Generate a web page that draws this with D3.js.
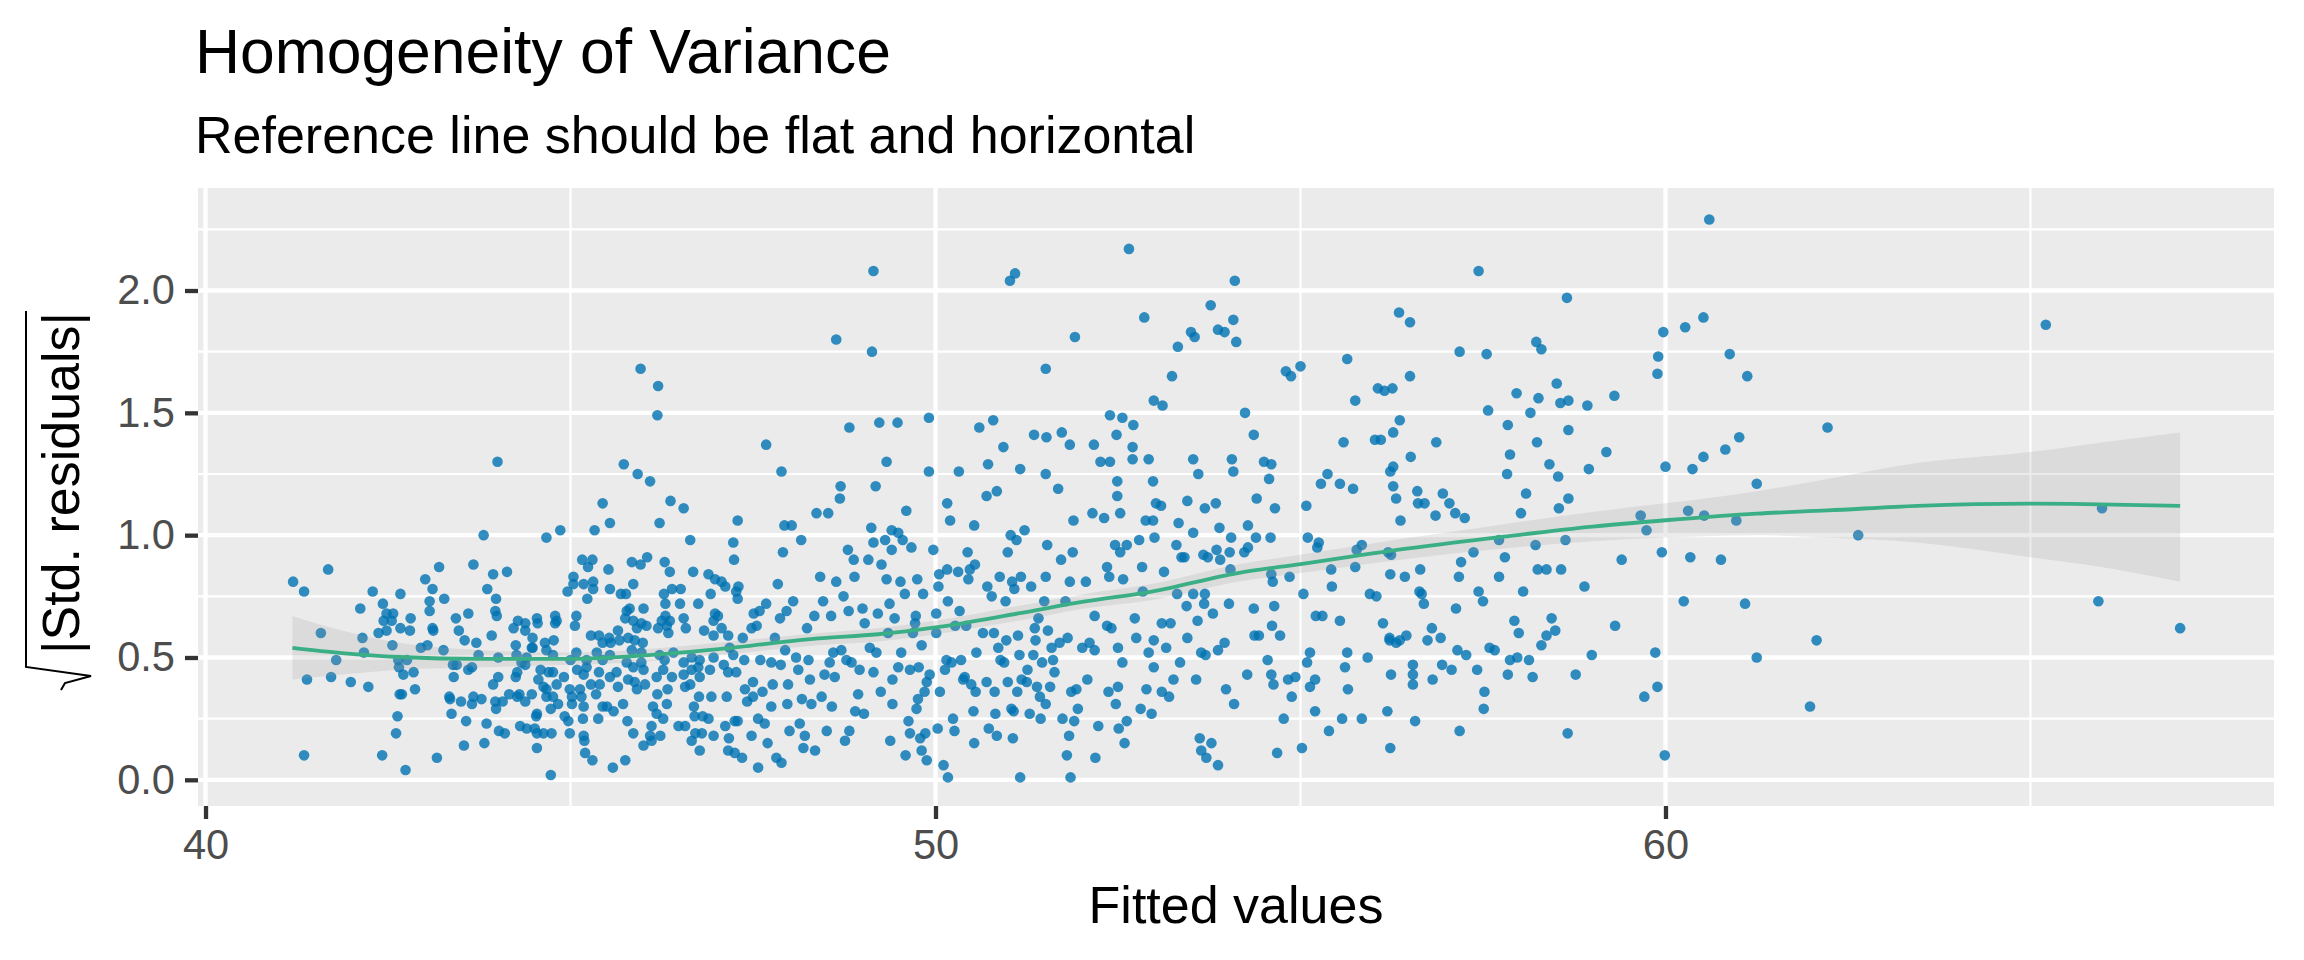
<!DOCTYPE html>
<html>
<head>
<meta charset="utf-8">
<script src="https://cdn.jsdelivr.net/npm/d3@7"></script>
<style>
html,body{margin:0;padding:0;background:#fff;}
svg{display:block;font-family:"Liberation Sans",Arial,sans-serif;}
</style>
</head>
<body>
<svg id="chart" width="2304" height="960"></svg>
<script>
// ---- data ----
const titleText = "Homogeneity of Variance";
const subtitleText = "Reference line should be flat and horizontal";
const xAxisTitle = "Fitted values";
const yAxisTitle = "|Std. residuals|";
const xTicks = [40, 50, 60];
const xMinor = [45, 55, 65];
const yTicks = [0, 0.5, 1.0, 1.5, 2.0];
const yMinor = [0.25, 0.75, 1.25, 1.75, 2.25];

// [fitted value, sqrt(|std. residual|)]
const residualPoints = [
[41.20,0.81],[41.35,0.77],[41.68,0.86],[41.58,0.60],[41.79,0.49],[41.39,0.41],[41.72,0.42],[41.35,0.10],[41.99,0.40],[42.23,0.38],
[42.12,0.70],[42.15,0.58],[42.17,0.52],[42.29,0.77],[42.42,0.10],[42.37,0.60],[42.74,0.04],[43.20,0.87],[43.17,0.09],[43.54,0.14],
[43.67,0.88],[43.81,1.00],[43.82,0.15],[44.00,1.30],[44.54,0.13],[44.67,0.99],[44.73,0.02],[44.86,1.02],[45.16,0.90],[45.19,0.16],
[45.20,0.11],[45.24,0.87],[45.30,0.08],[45.30,0.90],[45.33,1.02],[45.44,1.13],[45.52,0.86],[45.54,1.05],[45.58,0.05],[45.73,1.29],
[45.75,0.08],[45.84,0.89],[45.92,1.25],[45.96,0.88],[45.96,1.68],[46.00,0.14],[46.05,0.91],[46.09,1.22],[46.11,0.16],[46.19,1.49],
[46.20,1.61],[46.22,1.05],[46.29,0.89],[46.37,1.14],[46.55,1.11],[46.64,0.98],[46.66,0.16],[46.77,0.12],
[43.01,0.82],[42.67,0.76],[43.11,0.78],[43.07,0.73],[43.07,0.69],[43.27,0.74],[42.43,0.72],[42.48,0.68],[42.57,0.68],[42.44,0.65],
[42.55,0.65],[42.48,0.61],[42.67,0.62],[42.80,0.61],[42.81,0.66],[43.11,0.62],[43.12,0.61],[43.43,0.66],[43.60,0.68],[43.47,0.61],
[43.55,0.57],[43.71,0.56],[42.56,0.55],[42.95,0.54],[43.04,0.55],[43.26,0.53],[42.64,0.49],[42.76,0.49],[42.65,0.46],[42.71,0.43],
[42.85,0.44],[42.87,0.37],[42.66,0.35],[42.69,0.35],[42.63,0.26],[42.61,0.19],[43.44,0.47],[43.39,0.47],[43.60,0.45],[43.65,0.46],
[43.40,0.42],[43.74,0.51],[43.34,0.34],[43.35,0.33],[43.50,0.32],[43.65,0.31],[43.67,0.34],[43.78,0.33],[43.37,0.27],[43.57,0.24],
[43.85,0.23],[43.94,0.84],[44.13,0.85],[43.86,0.78],[43.98,0.74],[43.97,0.69],[43.99,0.67],[43.92,0.59],[44.01,0.50],[44.01,0.42],
[43.94,0.39],[43.97,0.32],[43.98,0.29],[44.07,0.32],[44.16,0.35],[44.02,0.20],[44.10,0.19],[44.22,0.62],[44.28,0.65],[44.38,0.64],
[44.38,0.61],[44.25,0.55],[44.26,0.51],[44.40,0.50],[44.33,0.48],[44.38,0.47],[44.25,0.42],[44.27,0.44],[44.30,0.35],[44.27,0.34],
[44.38,0.32],[44.48,0.58],[44.48,0.54],[44.54,0.66],[44.55,0.64],[44.65,0.56],[44.77,0.57],[44.79,0.67],[44.81,0.65],[44.79,0.64],
[44.59,0.45],[44.70,0.44],[44.76,0.44],[44.56,0.41],[44.91,0.42],[44.63,0.38],[44.67,0.37],[44.81,0.39],[44.47,0.35],[44.67,0.34],
[44.76,0.34],[44.83,0.31],[44.73,0.29],[44.54,0.27],[44.53,0.26],[44.31,0.22],[44.40,0.21],[44.51,0.21],[44.54,0.19],[44.63,0.19],
[44.74,0.19],[44.76,0.51],[44.47,0.54],[44.67,0.53],[45.00,0.49],[45.08,0.67],[45.06,0.63],[45.04,0.83],[45.04,0.80],[44.96,0.77],
[45.18,0.80],[45.31,0.81],[45.31,0.78],[45.23,0.74],[45.28,0.59],[45.39,0.59],[45.44,0.56],[45.53,0.58],[45.65,0.61],[45.55,0.56],
[45.67,0.57],[45.08,0.52],[45.22,0.49],[45.36,0.52],[45.44,0.49],[45.54,0.51],[45.09,0.45],[45.22,0.46],[45.18,0.43],[45.39,0.44],
[45.54,0.42],[45.63,0.44],[45.65,0.38],[44.99,0.37],[45.13,0.37],[45.28,0.39],[45.40,0.39],[45.02,0.34],[45.15,0.34],[45.35,0.35],
[45.02,0.31],[45.18,0.30],[45.44,0.30],[45.50,0.30],[45.59,0.28],[45.72,0.31],[44.92,0.26],[44.97,0.24],[45.17,0.25],[45.38,0.25],
[44.99,0.19],[45.18,0.18],[45.78,0.24],[45.54,0.78],[45.69,0.76],[45.76,0.76],[45.86,0.80],[45.77,0.69],[45.81,0.70],[45.75,0.66],
[45.86,0.65],[46.00,0.70],[45.97,0.64],[45.91,0.62],[46.04,0.63],[45.79,0.58],[45.88,0.57],[45.99,0.56],[45.84,0.53],[45.97,0.52],
[45.77,0.48],[45.86,0.46],[45.97,0.48],[46.00,0.45],[45.79,0.41],[45.88,0.40],[46.02,0.39],[45.91,0.37],[46.19,0.35],[46.13,0.30],
[46.18,0.27],[46.27,0.25],[46.11,0.22],[46.09,0.18],[45.86,0.19],[46.36,0.85],[46.39,0.78],[46.51,0.78],[46.28,0.76],[46.30,0.72],
[46.50,0.72],[46.30,0.67],[46.25,0.65],[46.36,0.65],[46.55,0.66],[46.32,0.63],[46.34,0.60],[46.20,0.62],[46.58,0.62],[46.68,0.85],
[46.89,0.84],[46.75,0.72],[46.92,0.76],[46.98,0.68],[46.83,0.61],[46.96,0.65],[46.96,0.59],[46.22,0.51],[46.41,0.52],[46.29,0.49],
[46.55,0.48],[46.66,0.50],[46.77,0.49],[46.96,0.50],[46.27,0.45],[46.18,0.42],[46.39,0.42],[46.55,0.43],[46.66,0.45],[46.75,0.46],
[46.91,0.45],[46.77,0.42],[46.57,0.38],[46.64,0.39],[46.33,0.37],[46.93,0.34],[46.76,0.34],[46.32,0.31],[46.69,0.30],[46.70,0.26],
[46.81,0.26],[46.89,0.25],[46.48,0.22],[46.57,0.22],[46.71,0.19],[46.80,0.19],[46.96,0.18],[46.23,0.18],[46.98,0.82],
[47.07,0.81],[47.12,0.79],[47.02,0.67],[47.07,0.62],[47.16,0.59],[47.18,0.54],[47.23,0.51],[47.10,0.47],[47.16,0.44],[47.27,0.44],
[47.14,0.34],[47.12,0.22],[47.25,0.24],[47.29,0.24],[47.17,0.17],[47.16,0.12],[47.25,0.11],[47.35,0.09],[47.23,0.97],[47.24,0.90],
[47.29,1.06],[47.27,0.77],[47.30,0.79],[47.29,0.74],[47.36,0.58],[47.38,0.49],[47.39,0.37],[47.42,0.32],[47.48,0.18],[47.50,0.40],
[47.50,0.34],[47.48,0.62],[47.51,0.68],[47.55,0.63],[47.59,0.69],[47.57,0.05],[47.57,0.25],[47.60,0.49],[47.63,0.36],[47.66,0.23],
[47.68,1.37],[47.68,0.72],[47.70,0.15],[47.75,0.48],[47.75,0.30],[47.77,0.39],[47.80,0.58],[47.82,0.09],[47.84,0.80],[47.87,0.66],
[47.88,0.47],[47.89,1.26],[47.89,0.07],[47.91,0.93],[47.93,1.04],[47.94,0.53],[47.96,0.69],[47.97,0.31],[47.98,0.39],[48.00,0.20],
[48.03,1.04],[48.05,0.73],[48.09,0.50],[48.12,0.45],[48.14,0.23],[48.16,0.98],[48.17,0.33],[48.19,0.13],[48.21,0.18],[48.24,0.62],
[48.26,0.49],[48.28,0.41],[48.30,0.31],[48.34,0.67],[48.35,0.12],[48.37,1.09],[48.42,0.83],[48.44,0.34],[48.46,0.73],[48.48,0.43],
[48.51,0.20],[48.53,1.09],[48.55,0.48],[48.57,0.67],[48.58,0.30],[48.60,0.52],[48.62,0.42],[48.64,1.80],[48.64,0.81],[48.69,1.15],
[48.70,1.20],[48.71,0.53],[48.74,0.75],[48.76,0.16],[48.78,0.49],[48.80,0.94],[48.81,0.69],[48.82,1.44],[48.82,0.20],[48.85,0.48],
[48.88,0.90],[48.89,0.83],[48.90,0.28],[48.94,0.35],[48.96,0.45],[49.00,0.70],[49.02,0.27],[49.03,0.64],[49.08,0.90],[49.10,0.54],
[49.12,1.03],[49.13,1.75],[49.15,2.08],[49.15,0.44],[49.15,0.97],[49.18,1.20],[49.19,0.52],[49.21,0.68],[49.23,1.46],[49.25,0.36],
[49.26,0.88],[49.31,0.98],[49.33,1.30],[49.33,0.82],[49.35,0.60],[49.37,0.72],[49.38,0.16],[49.40,0.94],[49.40,1.02],[49.41,0.41],
[49.41,0.31],[49.44,0.66],[49.48,1.46],[49.49,1.01],[49.49,0.46],[49.52,0.81],[49.53,0.52],[49.55,0.98],[49.58,0.76],[49.59,0.10],
[49.60,1.10],[49.63,0.24],[49.65,0.45],[49.65,0.19],[49.67,0.95],[49.69,0.60],[49.72,0.64],[49.73,0.67],[49.74,0.29],[49.75,0.82],
[49.76,0.33],[49.77,0.46],[49.79,0.17],[49.81,0.12],[49.81,0.55],[49.83,0.76],[49.85,0.36],[49.86,0.19],[49.88,0.40],[49.88,0.08],
[49.91,1.48],[49.91,1.26],[49.92,0.43],[49.97,0.94],[50.01,0.68],[50.01,0.60],[50.03,0.21],[50.04,0.79],[50.05,0.84],[50.06,0.36],
[50.11,0.06],[50.13,0.45],[50.15,0.49],[50.16,1.13],[50.16,0.86],[50.17,0.73],[50.17,0.01],[50.20,1.06],[50.22,0.48],[50.24,0.25],
[50.26,0.20],[50.27,0.63],[50.31,0.85],[50.32,1.26],[50.33,0.69],[50.35,0.49],[50.38,0.41],[50.40,0.42],[50.42,0.63],[50.44,0.93],
[50.45,0.82],[50.47,0.86],[50.49,0.39],[50.52,0.28],[50.53,0.15],[50.53,1.04],[50.54,0.88],[50.55,0.36],[50.56,0.52],[50.60,1.44],
[50.65,0.60],[50.70,0.40],[50.70,1.16],[50.71,0.79],[50.72,1.29],[50.73,0.21],[50.77,0.75],[50.79,1.47],[50.80,0.60],[50.81,0.36],
[50.82,0.27],[50.84,1.18],[50.84,0.18],[50.86,0.54],[50.88,0.83],[50.89,0.49],[50.93,1.36],[50.94,0.48],[50.96,0.73],[50.97,0.57],
[50.99,0.93],[50.99,0.40],[51.02,2.04],[51.03,1.00],[51.04,0.29],[51.05,0.81],[51.06,0.17],[51.07,0.28],[51.08,0.78],[51.09,2.07],
[51.11,0.98],[51.12,0.36],[51.13,0.59],[51.15,0.51],[51.16,1.27],[51.16,0.01],[51.17,0.83],[51.18,0.41],[51.22,1.02],[51.25,0.40],
[51.26,0.45],[51.29,0.27],[51.31,0.79],[51.34,0.51],[51.35,1.41],[51.36,0.62],[51.37,0.57],[51.39,0.38],[51.41,0.66],[51.43,0.34],
[51.44,0.25],[51.46,0.48],[51.49,0.73],[51.51,1.25],[51.51,1.68],[51.51,0.83],[51.51,0.31],[51.52,1.40],[51.53,0.96],[51.54,0.61],
[51.57,0.38],[51.59,0.54],[51.61,0.49],[51.63,0.44],[51.68,1.19],[51.70,0.56],[51.72,0.90],[51.73,1.42],[51.74,0.25],[51.78,0.73],
[51.80,0.10],[51.81,0.58],[51.83,0.18],[51.84,1.37],[51.84,0.81],[51.85,0.01],[51.86,0.36],[51.88,0.93],[51.89,1.06],[51.90,0.24],
[51.91,1.81],[51.93,0.37],[51.95,0.29],[52.01,0.54],[52.06,0.81],[52.08,0.41],[52.11,0.56],[52.15,1.09],[52.17,1.37],[52.18,0.67],
[52.18,0.53],[52.19,0.09],[52.23,0.22],[52.26,1.30],[52.31,1.07],[52.35,0.63],[52.35,0.87],[52.37,0.36],[52.38,0.83],[52.39,1.30],
[52.39,1.49],[52.41,0.62],[52.46,0.96],[52.47,0.31],[52.48,1.41],[52.49,1.22],[52.49,1.16],[52.50,0.54],[52.50,0.38],[52.51,0.21],
[52.53,1.09],[52.53,0.93],[52.56,1.48],[52.56,0.48],[52.57,0.82],[52.59,0.15],[52.62,0.96],[52.62,0.24],[52.65,2.17],[52.70,1.36],
[52.70,1.31],[52.71,1.45],[52.73,0.66],[52.75,0.58],[52.79,0.98],[52.81,0.29],[52.83,0.87],[52.84,0.77],[52.86,1.89],[52.88,1.06],
[52.89,0.37],[52.92,0.52],[52.92,1.31],[52.96,0.27],[52.98,1.06],[52.98,1.22],[52.99,0.57],[52.99,0.46],[52.99,1.55],[53.00,0.99],
[53.02,1.13],[53.09,1.12],[53.10,0.64],[53.10,0.36],[53.11,1.53],[53.13,0.85],[53.16,0.54],[53.20,0.34],[53.22,0.64],[53.24,1.65],
[53.26,0.41],[53.30,0.96],[53.31,0.76],[53.32,1.77],[53.33,1.05],[53.35,0.48],[53.37,0.91],[53.41,0.91],[53.44,0.71],[53.45,1.14],
[53.45,0.58],[53.50,1.83],[53.53,1.01],[53.53,0.76],[53.53,1.31],[53.55,1.81],[53.57,0.41],[53.59,0.65],[53.60,1.25],[53.62,0.17],
[53.64,0.52],[53.64,0.12],[53.67,0.92],[53.68,0.72],[53.69,1.11],[53.69,0.76],[53.70,0.51],[53.71,0.09],[53.73,0.91],[53.77,1.94],
[53.78,0.15],[53.80,0.68],[53.84,1.13],[53.85,0.94],[53.87,1.84],[53.87,0.53],[53.87,0.06],[53.89,1.03],[53.90,0.90],[53.96,1.83],
[53.96,0.56],[53.98,0.37],[54.02,0.72],[54.03,0.93],[54.04,0.86],[54.05,0.99],[54.06,1.31],[54.08,1.88],[54.08,1.26],[54.09,0.31],
[54.10,2.04],[54.12,1.79],
[54.24,1.50],[54.28,1.04],[54.23,0.93],[54.28,0.95],[54.27,0.43],[54.36,1.41],[54.39,0.99],[54.40,1.15],[54.36,0.70],[54.37,0.59],
[54.43,0.59],[54.50,1.30],[54.57,1.23],[54.59,0.99],[54.60,1.29],[54.60,0.84],[54.62,0.81],[54.64,0.71],[54.61,0.63],[54.65,1.11],
[54.55,0.49],[54.60,0.43],[54.63,0.39],[54.68,0.11],[54.72,0.59],[54.77,0.25],[54.80,1.67],[54.83,0.41],[54.85,0.83],[54.87,1.65],
[54.88,0.34],[54.93,0.42],[55.00,1.69],[55.02,0.13],[55.04,0.76],[55.08,1.12],[55.09,0.48],[55.10,0.99],[55.13,0.52],[55.13,0.38],
[55.20,0.28],[55.20,0.41],[55.21,0.67],[55.23,0.95],[55.25,0.97],[55.28,1.21],[55.30,0.67],[55.37,1.25],[55.39,0.20],[55.42,0.86],
[55.43,0.79],[55.54,1.21],[55.54,0.65],[55.57,0.25],[55.59,1.38],[55.61,0.46],[55.64,1.72],[55.64,0.52],[55.65,0.37],[55.72,1.19],
[55.75,1.55],[55.75,0.87],[55.77,0.94],[55.84,0.96],[55.84,0.25],[55.92,0.50],[55.95,0.76],[56.02,1.39],[56.04,0.75],[56.06,1.60],
[56.10,1.39],[56.13,0.64],[56.15,1.59],[56.19,0.28],[56.20,0.93],[56.22,0.58],[56.22,0.57],[56.23,0.84],[56.23,0.13],[56.24,0.43],
[56.24,0.92],[56.23,1.26],[56.26,1.60],[56.27,1.42],[56.27,1.28],[56.27,1.20],[56.31,1.15],[56.31,0.56],[56.35,1.91],[56.36,1.47],
[56.36,0.57],[56.37,1.06],[56.43,0.83],[56.45,0.59],[56.50,1.87],[56.50,1.65],[56.51,1.32],[56.54,0.47],[56.54,0.43],[56.54,0.39],
[56.57,0.24],[56.60,1.18],[56.61,1.13],[56.63,0.77],[56.64,0.86],[56.66,0.76],[56.69,0.72],[56.70,1.13],[56.74,0.57],[56.80,0.62],
[56.81,0.41],[56.85,1.08],[56.86,1.38],[56.92,0.58],[56.94,0.47],[56.95,1.17],[57.04,1.13],[57.07,0.45],[57.12,1.09],[57.13,0.70],
[57.15,0.53],[57.17,0.83],[57.18,1.75],[57.18,0.20],[57.20,0.89],[57.25,1.07],[57.27,0.51],[57.37,0.93],[57.42,0.45],[57.44,2.08],
[57.44,0.77],[57.50,0.73],[57.51,0.29],[57.52,0.36],[57.55,1.74],[57.57,1.51],[57.59,0.54],[57.66,0.53],[57.72,0.98],[57.72,0.83],
[57.80,0.91],[57.83,1.25],[57.84,0.43],[57.84,1.45],[57.87,1.33],[57.87,0.49],[57.93,0.65],[57.96,1.58],[57.97,0.50],[57.99,0.60],
[58.02,1.09],[58.05,0.77],[58.09,1.17],[58.13,0.49],[58.15,1.50],[58.18,0.42],[58.22,0.96],[58.23,1.79],[58.24,1.38],[58.25,0.86],
[58.26,1.56],[58.30,1.76],[58.30,0.55],[58.37,0.59],[58.37,0.86],[58.41,1.29],[58.44,0.66],[58.49,0.61],[58.51,1.62],[58.53,1.24],
[58.54,1.11],[58.56,1.54],[58.57,0.86],[58.63,0.98],[58.65,1.97],[58.66,0.19],[58.67,1.43],[58.67,1.55],[58.67,1.15],[58.77,0.43],
[58.89,0.79],[58.93,1.53],[58.95,1.27],[58.99,0.51],[59.19,1.34],[59.30,1.57],[59.31,0.63],[59.40,0.90],[59.66,1.08],[59.71,0.34],
[59.74,1.02],[59.86,0.52],[59.89,0.38],[59.89,1.66],[59.90,1.73],[59.95,0.93],[59.97,1.83],[59.99,0.10],[60.00,1.28],[60.25,0.73],
[60.27,1.85],[60.31,1.10],[60.34,0.91],[60.37,1.27],[60.52,1.89],[60.52,1.32],[60.53,1.08],[60.60,2.29],[60.76,0.90],[60.82,1.35],
[60.88,1.74],[60.97,1.06],[61.01,1.40],[61.09,0.72],[61.12,1.65],[61.25,1.21],[61.25,0.50],
[62.22,1.44],[62.07,0.57],[61.98,0.30],[62.64,1.00],[65.21,1.86],[65.98,1.11],[65.93,0.73],[67.05,0.62]
];

// loess reference line with confidence band
const smoothX     = [41.19,41.87,42.65,43.79,44.93,45.84,47.03,48.39,49.21,50.00,51.13,52.05,52.96,54.14,55.00,56.51,57.79,59.00,60.00,61.25,62.22,63.45,65.00,65.75,67.05];
const smoothFit   = [0.539,0.518,0.502,0.494,0.494,0.505,0.534,0.578,0.595,0.623,0.680,0.729,0.769,0.845,0.882,0.947,0.994,1.035,1.061,1.088,1.101,1.120,1.129,1.127,1.120];
const smoothLower = [0.41,0.43,0.45,0.46,0.47,0.48,0.51,0.55,0.565,0.595,0.65,0.70,0.735,0.81,0.845,0.905,0.945,0.975,0.99,1.00,0.99,0.97,0.91,0.88,0.81];
const smoothUpper = [0.67,0.61,0.56,0.53,0.52,0.53,0.56,0.60,0.62,0.65,0.71,0.76,0.80,0.88,0.92,0.99,1.045,1.095,1.13,1.18,1.23,1.295,1.34,1.37,1.42];

// ---- drawing ----
const svg = d3.select("#chart");
svg.append("rect").attr("width",2304).attr("height",960).attr("fill","#ffffff");

const panel = {left:198, right:2274, top:188, bottom:806};
const x = d3.scaleLinear().domain([39.897, 68.336]).range([panel.left, panel.right]);
const y = d3.scaleLinear().domain([-0.107, 2.419]).range([panel.bottom, panel.top]);

svg.append("rect")
  .attr("x",panel.left).attr("y",panel.top)
  .attr("width",panel.right-panel.left).attr("height",panel.bottom-panel.top)
  .attr("fill","#ebebeb");

const grid = svg.append("g");
grid.selectAll(".hmin").data(yMinor).join("line")
  .attr("x1",panel.left).attr("x2",panel.right)
  .attr("y1",d=>y(d)).attr("y2",d=>y(d))
  .attr("stroke","#ffffff").attr("stroke-width",2.2);
grid.selectAll(".vmin").data(xMinor).join("line")
  .attr("y1",panel.top).attr("y2",panel.bottom)
  .attr("x1",d=>x(d)).attr("x2",d=>x(d))
  .attr("stroke","#ffffff").attr("stroke-width",2.2);
grid.selectAll(".hmaj").data(yTicks).join("line")
  .attr("x1",panel.left).attr("x2",panel.right)
  .attr("y1",d=>y(d)).attr("y2",d=>y(d))
  .attr("stroke","#ffffff").attr("stroke-width",4.3);
grid.selectAll(".vmaj").data(xTicks).join("line")
  .attr("y1",panel.top).attr("y2",panel.bottom)
  .attr("x1",d=>x(d)).attr("x2",d=>x(d))
  .attr("stroke","#ffffff").attr("stroke-width",4.3);

// points
svg.append("g").selectAll("circle").data(residualPoints).join("circle")
  .attr("cx",d=>x(d[0])).attr("cy",d=>y(d[1])).attr("r",5.3)
  .attr("fill","#0072B2").attr("fill-opacity",0.8);

// confidence band and loess line
const bandData = smoothX.map((v,i)=>({x:v, lo:smoothLower[i], hi:smoothUpper[i], fit:smoothFit[i]}));
svg.append("path").datum(bandData)
  .attr("d", d3.area().x(d=>x(d.x)).y0(d=>y(d.lo)).y1(d=>y(d.hi)).curve(d3.curveMonotoneX))
  .attr("fill","#999999").attr("fill-opacity",0.2);
svg.append("path").datum(bandData)
  .attr("d", d3.line().x(d=>x(d.x)).y(d=>y(d.fit)).curve(d3.curveMonotoneX))
  .attr("fill","none").attr("stroke","#3aaf85").attr("stroke-width",3.8);

// axes
const xAxis = d3.axisBottom(x).tickValues(xTicks).tickSize(13).tickPadding(10).tickFormat(d3.format("d"));
const gx = svg.append("g").attr("transform",`translate(0,${panel.bottom})`).call(xAxis);
gx.select(".domain").remove();
gx.selectAll(".tick line").attr("stroke","#333333").attr("stroke-width",4.3);
gx.selectAll(".tick text").attr("fill","#4d4d4d").attr("font-size",41.6)
  .attr("font-family","'Liberation Sans',Arial,sans-serif").attr("dy","0.72em");

const yAxis = d3.axisLeft(y).tickValues(yTicks).tickSize(13).tickPadding(10).tickFormat(d3.format(".1f"));
const gy = svg.append("g").attr("transform",`translate(${panel.left},0)`).call(yAxis);
gy.select(".domain").remove();
gy.selectAll(".tick line").attr("stroke","#333333").attr("stroke-width",4.3);
gy.selectAll(".tick text").attr("fill","#4d4d4d").attr("font-size",41.6)
  .attr("font-family","'Liberation Sans',Arial,sans-serif");

// titles
svg.append("text").attr("x",195).attr("y",73).attr("font-size",62.4).attr("fill","#000").text(titleText);
svg.append("text").attr("x",195).attr("y",153).attr("font-size",52).attr("fill","#000").text(subtitleText);
svg.append("text").attr("x",(panel.left+panel.right)/2).attr("y",923).attr("text-anchor","middle")
  .attr("font-size",52).attr("fill","#000").text(xAxisTitle);

// y title: square-root over |Std. residuals|
svg.append("text").attr("transform","translate(79,483) rotate(-90)").attr("text-anchor","middle")
  .attr("font-size",52).attr("fill","#000").text(yAxisTitle);
svg.append("path")
  .attr("d","M61,690 L65,683 L91,676 L26,667 L26,311")
  .attr("fill","none").attr("stroke","#000").attr("stroke-width",2);
</script>
</body>
</html>
